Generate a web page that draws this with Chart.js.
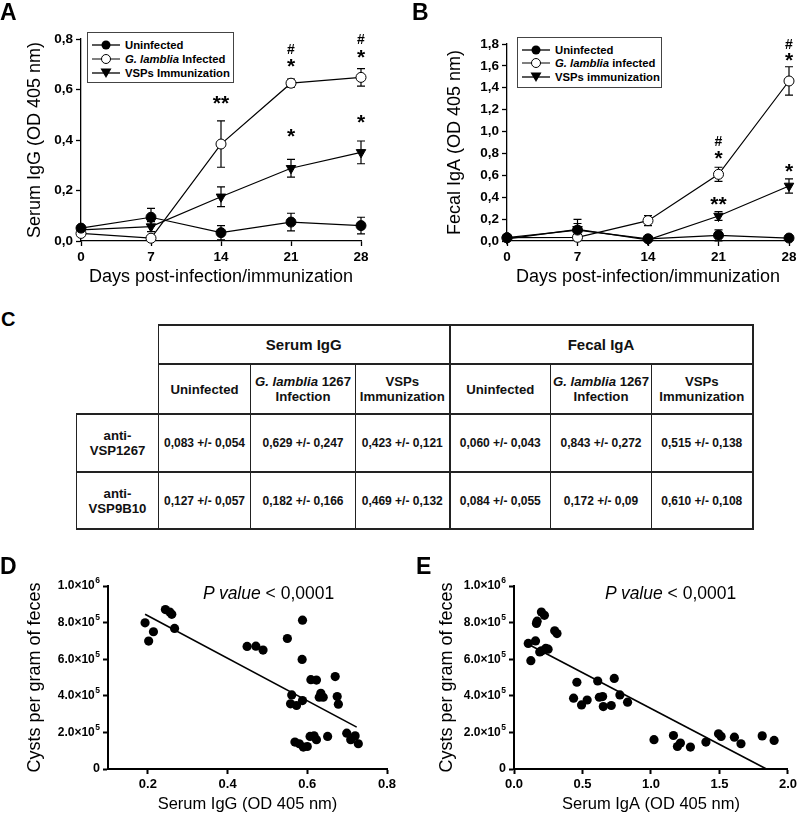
<!DOCTYPE html>
<html>
<head>
<meta charset="utf-8">
<script src="https://cdn.jsdelivr.net/npm/chart.js@4.4.1/dist/chart.umd.min.js"></script>
<style>
body{margin:0;background:#fff;font-family:"Liberation Sans",Arial,sans-serif;color:#000;}
#fig{position:relative;width:800px;height:817px;overflow:hidden;background:#fff;}
canvas{position:absolute;}
.lbl{position:absolute;font-weight:bold;font-size:23px;line-height:1;}
.legend{position:absolute;border:1px solid #444;background:#fff;box-sizing:border-box;}
.legend .row{position:absolute;left:4px;height:14px;display:flex;align-items:center;font-size:11.3px;font-weight:bold;white-space:nowrap;}
.legend svg{margin-right:5px;}
.pval{position:absolute;font-size:17.5px;line-height:20px;white-space:nowrap;}
#tbl{position:absolute;left:76px;top:324px;border-collapse:collapse;table-layout:fixed;color:#111;}
#tbl td,#tbl th{border:1px solid #222;border-top-width:2px;border-bottom-width:2px;text-align:center;vertical-align:middle;padding:0;font-weight:bold;}
#tbl td.e{border:none;}
#tbl .sep{border-left-width:2px;}
#tbl .last{border-right-width:2px;}
#tbl .h1{font-size:15px;}
#tbl .h2{font-size:13.2px;line-height:15px;}
#tbl .rl{font-size:13.2px;line-height:15px;}
#tbl .v{font-size:12px;white-space:nowrap;}
</style>
</head>
<body>
<div id="fig">
  <canvas id="cA" width="400" height="290" style="left:0;top:0"></canvas>
  <canvas id="cB" width="400" height="290" style="left:400px;top:0"></canvas>
  <canvas id="cD" width="400" height="277" style="left:0;top:540px"></canvas>
  <canvas id="cE" width="400" height="277" style="left:400px;top:540px"></canvas>

  <div class="lbl" style="left:0;top:1px">A</div>
  <div class="lbl" style="left:412px;top:1px">B</div>
  <div class="lbl" style="left:1px;top:309px;font-size:20px">C</div>
  <div class="lbl" style="left:0;top:555px">D</div>
  <div class="lbl" style="left:416px;top:555px">E</div>

  <div class="legend" style="left:87px;top:32px;width:147px;height:51px">
    <div class="row" style="top:5px"><svg width="28" height="12"><line x1="0" y1="6" x2="28" y2="6" stroke="#000" stroke-width="1.3"/><circle cx="14" cy="6" r="4.5" fill="#000"/></svg>Uninfected</div>
    <div class="row" style="top:19px"><svg width="28" height="12"><line x1="0" y1="6" x2="28" y2="6" stroke="#000" stroke-width="1"/><circle cx="14" cy="6" r="4.5" fill="#fff" stroke="#000"/></svg><i>G. lamblia</i>&nbsp;Infected</div>
    <div class="row" style="top:33px"><svg width="28" height="12"><line x1="0" y1="6" x2="28" y2="6" stroke="#000" stroke-width="1.3"/><polygon points="8.5,1.5 19.5,1.5 14,11" fill="#000"/></svg>VSPs Immunization</div>
  </div>
  <div class="legend" style="left:517px;top:37px;width:145px;height:51px">
    <div class="row" style="top:5px"><svg width="28" height="12"><line x1="0" y1="6" x2="28" y2="6" stroke="#000" stroke-width="1.3"/><circle cx="14" cy="6" r="4.5" fill="#000"/></svg>Uninfected</div>
    <div class="row" style="top:18px"><svg width="28" height="12"><line x1="0" y1="6" x2="28" y2="6" stroke="#000" stroke-width="1"/><circle cx="14" cy="6" r="4.5" fill="#fff" stroke="#000"/></svg><i>G. lamblia</i>&nbsp;infected</div>
    <div class="row" style="top:32px"><svg width="28" height="12"><line x1="0" y1="6" x2="28" y2="6" stroke="#000" stroke-width="1.3"/><polygon points="8.5,1.5 19.5,1.5 14,11" fill="#000"/></svg>VSPs immunization</div>
  </div>

  <div class="pval" style="left:203px;top:583px"><i>P value</i> &lt; 0,0001</div>
  <div class="pval" style="left:605px;top:583px"><i>P value</i> &lt; 0,0001</div>

  <table id="tbl">
    <colgroup><col style="width:82px"><col style="width:92px"><col style="width:105px"><col style="width:94px"><col style="width:101px"><col style="width:101px"><col style="width:101px"></colgroup>
    <tr style="height:39px"><td class="e"></td><th colspan="3" class="h1">Serum IgG</th><th colspan="3" class="h1 sep last">Fecal IgA</th></tr>
    <tr style="height:50px"><td class="e"></td>
      <th class="h2">Uninfected</th><th class="h2"><i>G. lamblia</i> 1267<br>Infection</th><th class="h2">VSPs<br>Immunization</th>
      <th class="h2 sep">Uninfected</th><th class="h2"><i>G. lamblia</i> 1267<br>Infection</th><th class="h2 last">VSPs<br>Immunization</th></tr>
    <tr style="height:58px"><td class="rl">anti-<br>VSP1267</td>
      <td class="v">0,083 +/- 0,054</td><td class="v">0,629 +/- 0,247</td><td class="v">0,423 +/- 0,121</td>
      <td class="v sep">0,060 +/- 0,043</td><td class="v">0,843 +/- 0,272</td><td class="v last">0,515 +/- 0,138</td></tr>
    <tr style="height:57px"><td class="rl">anti-<br>VSP9B10</td>
      <td class="v">0,127 +/- 0,057</td><td class="v">0,182 +/- 0,166</td><td class="v">0,469 +/- 0,132</td>
      <td class="v sep">0,084 +/- 0,055</td><td class="v">0,172 +/- 0,09</td><td class="v last">0,610 +/- 0,108</td></tr>
  </table>
</div>

<script>
// ─── Data: kinetics (A, B) ───
const days = [0, 7, 14, 21, 28];

const igUninf    = [0.051, 0.094, 0.033, 0.075, 0.061];
const igUninfErr = [0.010, 0.035, 0.028, 0.035, 0.033];
const igInf      = [0.030, 0.011, 0.384, 0.625, 0.648];
const igInfErr   = [0.008, 0.005, 0.092, 0.016, 0.035];
const igVsp      = [0.044, 0.057, 0.175, 0.288, 0.351];
const igVspErr   = [0.008, 0.020, 0.039, 0.035, 0.045];

const iaUninf    = [0.030, 0.100, 0.020, 0.052, 0.027];
const iaUninfErr = [0.010, 0.060, 0.010, 0.050, 0.010];
const iaInf      = [0.030, 0.034, 0.186, 0.609, 1.462];
const iaInfErr   = [0.010, 0.010, 0.045, 0.065, 0.130];
const iaVsp      = [0.020, 0.107, 0.010, 0.228, 0.503];
const iaVspErr   = [0.010, 0.090, 0.010, 0.040, 0.065];

const ticksA = [0, 0.2, 0.4, 0.6, 0.8];
const ticksB = [0, 0.2, 0.4, 0.6, 0.8, 1.0, 1.2, 1.4, 1.6, 1.8];

// significance marks (day, value, symbol)
const marksA = [
  {x:14, y:0.558, t:'**'},
  {x:21, y:0.760, t:'#'}, {x:21, y:0.705, t:'*'}, {x:21, y:0.428, t:'*'},
  {x:28, y:0.800, t:'#'}, {x:28, y:0.741, t:'*'}, {x:28, y:0.483, t:'*'}
];
const marksB = [
  {x:21, y:0.914, t:'#'}, {x:21, y:0.786, t:'*'}, {x:21, y:0.365, t:'**'},
  {x:28, y:1.800, t:'#'}, {x:28, y:1.681, t:'*'}, {x:28, y:0.667, t:'*'}
];

// ─── Data: correlations (D, E) ───
const dIgG  = [0.193,0.202,0.214,0.244,0.255,0.260,0.267,0.449,0.471,0.489,0.550,0.588,0.587,0.561,0.558,0.573,0.588,
               0.609,0.623,0.634,0.630,0.640,0.670,0.675,0.678,0.569,0.580,0.590,0.600,0.607,0.617,0.623,0.651,0.699,0.709,0.720,0.728];
const dCyst = [7.99e5,6.99e5,7.50e5,8.71e5,8.58e5,8.45e5,7.68e5,6.70e5,6.71e5,6.50e5,7.13e5,8.13e5,5.99e5,4.05e5,3.56e5,3.47e5,3.74e5,
               4.88e5,4.86e5,4.14e5,3.92e5,3.92e5,5.05e5,3.96e5,3.54e5,1.47e5,1.38e5,1.20e5,1.23e5,1.78e5,1.81e5,1.60e5,1.78e5,1.96e5,1.60e5,1.81e5,1.38e5];
const dFitX = [0.193, 0.724];
const dFitY = [8.46e5, 2.29e5];

const eIgA  = [0.104,0.123,0.157,0.164,0.169,0.200,0.222,0.188,0.200,0.232,0.249,0.297,0.314,0.435,0.459,0.493,0.534,0.611,0.623,
               0.647,0.652,0.710,0.732,0.773,0.829,1.022,1.164,1.193,1.215,1.288,1.401,1.493,1.512,1.609,1.657,1.812,1.899];
const eCyst = [6.86e5,5.92e5,7.00e5,7.95e5,8.08e5,8.58e5,8.40e5,6.40e5,6.45e5,6.59e5,6.55e5,7.55e5,7.40e5,3.87e5,4.74e5,3.50e5,3.77e5,4.81e5,3.92e5,
               3.96e5,3.41e5,3.47e5,4.95e5,4.05e5,3.65e5,1.60e5,1.83e5,1.23e5,1.42e5,1.20e5,1.47e5,1.92e5,1.78e5,1.74e5,1.38e5,1.81e5,1.56e5];
const eFitX = [0.104, 1.843];
const eFitY = [6.82e5, 0];

const ticksCyst = [0, 2e5, 4e5, 6e5, 8e5, 1e6];
const ticksD = [0.2, 0.4, 0.6, 0.8];
const ticksE = [0, 0.5, 1.0, 1.5, 2.0];

// ─── Helpers ───
const F = "'Liberation Sans', Arial, sans-serif";

const errorBars = {
    id:'errorBars',
    beforeDatasetsDraw(chart){
        const {ctx, scales:{x,y}} = chart;
        ctx.save();
        ctx.strokeStyle = '#000'; ctx.lineWidth = 1.2;
        chart.data.datasets.forEach(ds=>{
            if(!ds.errors) return;
            ds.data.forEach((p,i)=>{
                const e = ds.errors[i];
                const px = x.getPixelForValue(p.x);
                const t = y.getPixelForValue(p.y + e), b = y.getPixelForValue(p.y - e);
                ctx.beginPath();
                ctx.moveTo(px, t); ctx.lineTo(px, b);
                ctx.moveTo(px-4, t); ctx.lineTo(px+4, t);
                ctx.moveTo(px-4, b); ctx.lineTo(px+4, b);
                ctx.stroke();
            });
        });
        ctx.restore();
    }
};

const sigMarks = {
    id:'sigMarks',
    afterDatasetsDraw(chart, args, opts){
        const {ctx, scales:{x,y}} = chart;
        ctx.save();
        ctx.fillStyle = '#000'; ctx.textAlign = 'center'; ctx.textBaseline = 'alphabetic';
        (opts.items || []).forEach(m=>{
            ctx.font = `bold ${m.t === '#' ? 14 : 21}px ${F}`;
            const mt = ctx.measureText(m.t);
            const cy = y.getPixelForValue(m.y);
            ctx.fillText(m.t, x.getPixelForValue(m.x), cy + (mt.actualBoundingBoxAscent - mt.actualBoundingBoxDescent)/2);
        });
        ctx.restore();
    }
};

// y labels like 8.0×10^5 with a raised exponent
const sciTicks = {
    id:'sciTicks',
    afterDraw(chart){
        const {ctx} = chart, s = chart.scales.y;
        ctx.save();
        ctx.fillStyle = '#000'; ctx.textBaseline = 'middle'; ctx.textAlign = 'right';
        const right = s.right - 8;
        ticksCyst.forEach(v=>{
            const py = s.getPixelForValue(v);
            if(v === 0){
                ctx.font = `bold 12.5px ${F}`;
                ctx.fillText('0', right, py);
                return;
            }
            const e = Math.floor(Math.log10(v) + 1e-9);
            const m = (v / Math.pow(10, e)).toFixed(1);
            ctx.font = `bold 8.5px ${F}`;
            const ew = ctx.measureText(String(e)).width;
            ctx.fillText(String(e), right, py - 5);
            ctx.font = `bold 12px ${F}`;
            ctx.fillText(m + '×10', right - ew - 0.5, py);
        });
        ctx.restore();
    }
};

function axis(opts){
    return {
        type:'linear', min:opts.min, max:opts.max,
        afterBuildTicks: s => { s.ticks = opts.ticks.map(v=>({value:v})); },
        afterFit: s => { if(opts.w) s.width = opts.w; if(opts.h) s.height = opts.h; },
        border:{display:true, color:'#000', width:opts.lw},
        grid:{drawOnChartArea:false, drawTicks:true, tickLength:5, color:'#000', tickWidth:opts.lw},
        ticks:{display:opts.showTicks !== false, color:'#000', padding:opts.tp, maxRotation:0, autoSkip:false,
               font:{family:F, size:opts.fs, weight:'bold'}, callback:opts.fmt},
        title:{display:true, text:opts.title, color:'#000', font:{family:F, size:opts.ts}, padding:opts.pad}
    };
}

// ─── Kinetics charts ───
function makeKinetics(id, series, yMax, yTicks, yTitle, marks, g){
    new Chart(document.getElementById(id), {
        type:'line',
        data:{datasets: series.map(s=>({
            label:s.label,
            data: days.map((d,i)=>({x:d, y:s.values[i]})),
            errors:s.errors,
            borderColor:'#000', borderWidth:1.2, tension:0, clip:false,
            pointStyle:s.style, pointRotation:s.rot || 0, pointRadius:s.r,
            pointBackgroundColor:s.fill, pointBorderColor:'#000', pointBorderWidth:1
        }))},
        options:{
            responsive:false, animation:false, events:[],
            layout:{padding:{top:g.top, right:g.right, left:0, bottom:0}},
            plugins:{legend:{display:false}, tooltip:{enabled:false}, sigMarks:{items:marks}},
            scales:{
                x: axis({min:0, max:28, ticks:days, h:g.xh, lw:1.3, tp:3, fs:13.5, ts:18,
                         title:'Days post-infection/immunization', pad:{top:0, bottom:2}}),
                y: axis({min:0, max:yMax, ticks:yTicks, w:g.yw, lw:1.3, tp:3, fs:13.5, ts:18,
                         fmt:v=>v.toFixed(1).replace('.', ','), title:yTitle, pad:{top:g.ytp, bottom:0}})
            }
        },
        plugins:[errorBars, sigMarks]
    });
}

makeKinetics('cA', [
    {label:'Uninfected', values:igUninf, errors:igUninfErr, style:'circle', r:5, fill:'#000'},
    {label:'G. lamblia Infected', values:igInf, errors:igInfErr, style:'circle', r:5, fill:'#fff'},
    {label:'VSPs Immunization', values:igVsp, errors:igVspErr, style:'triangle', rot:180, r:5.5, fill:'#000'}
], 0.8, ticksA, 'Serum IgG (OD 405 nm)', marksA, {top:39, right:39, xh:49, yw:81, ytp:24});

makeKinetics('cB', [
    {label:'Uninfected', values:iaUninf, errors:iaUninfErr, style:'circle', r:5, fill:'#000'},
    {label:'G. lamblia infected', values:iaInf, errors:iaInfErr, style:'circle', r:5, fill:'#fff'},
    {label:'VSPs immunization', values:iaVsp, errors:iaVspErr, style:'triangle', rot:180, r:5.5, fill:'#000'}
], 1.8, ticksB, 'Fecal IgA (OD 405 nm)', marksB, {top:44, right:11, xh:49, yw:107, ytp:44});

// ─── Correlation charts ───
function makeCorr(id, xs, ys, fx, fy, xMin, xMax, xTicks, xTitle, g){
    new Chart(document.getElementById(id), {
        type:'scatter',
        data:{datasets:[
            {data: xs.map((v,i)=>({x:v, y:ys[i]})), pointRadius:4.6, pointBackgroundColor:'#000',
             pointBorderWidth:0, clip:false},
            {data: fx.map((v,i)=>({x:v, y:fy[i]})), showLine:true, pointRadius:0, borderColor:'#000',
             borderWidth:1.6, clip:false}
        ]},
        options:{
            responsive:false, animation:false, events:[],
            layout:{padding:{top:g.top, right:g.right, left:0, bottom:0}},
            plugins:{legend:{display:false}, tooltip:{enabled:false}},
            scales:{
                x: axis({min:xMin, max:xMax, ticks:xTicks, h:g.xh, lw:2, tp:3, fs:13, ts:16.5,
                         fmt:v=>v.toFixed(1), title:xTitle, pad:{top:0, bottom:3}}),
                y: axis({min:0, max:1e6, ticks:ticksCyst, w:g.yw, lw:2, tp:2, fs:12.5, ts:18, showTicks:false,
                         title:'Cysts per gram of feces', pad:{top:g.ytp, bottom:0}})
            }
        },
        plugins:[sciTicks]
    });
}

makeCorr('cD', dIgG, dCyst, dFitX, dFitY, 0.1, 0.8, ticksD, 'Serum IgG (OD 405 nm)',
         {top:46, right:13, xh:48, yw:108, ytp:24});
makeCorr('cE', eIgA, eCyst, eFitX, eFitY, 0, 2.0, ticksE, 'Serum IgA (OD 405 nm)',
         {top:46, right:10, xh:48, yw:114, ytp:36});
</script>
</body>
</html>
